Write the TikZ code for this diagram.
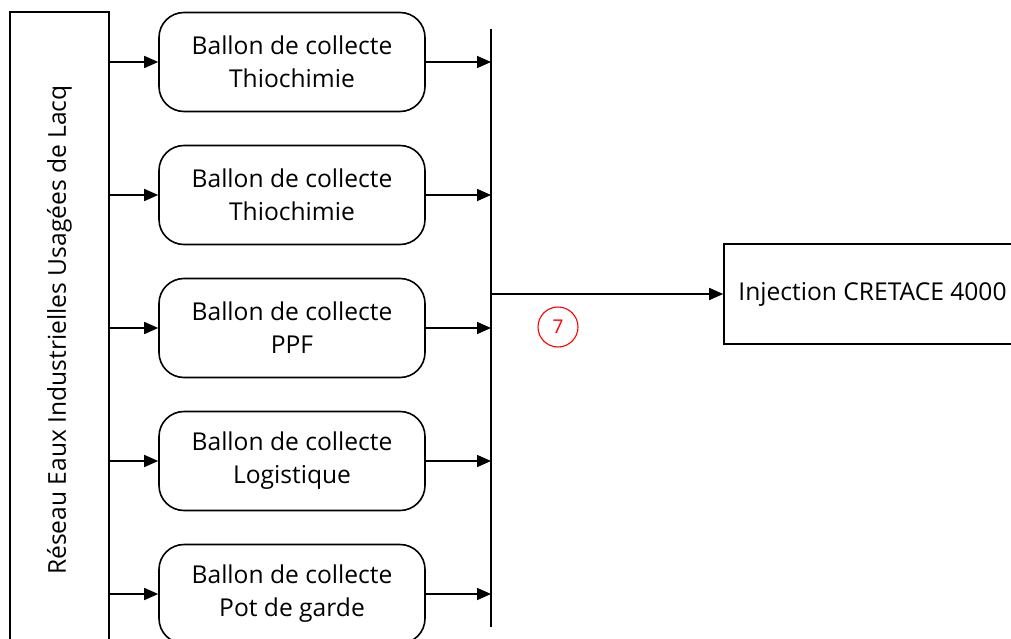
\documentclass[tikz,border=0pt]{standalone}
\usepackage{fontspec}
\setmainfont{Open Sans}
\usetikzlibrary{arrows.meta}
\begin{document}
\begin{tikzpicture}[x=1pt,y=-1pt,
  every node/.style={font=\fontsize{24.6}{33}\selectfont, align=center, inner sep=0pt},
  line/.style={line width=1.6pt, draw=black},
  arr/.style={line, -{Triangle[length=14pt,width=12pt]}},
  ballon/.style={line, rounded corners=25pt, minimum width=266pt, minimum height=99pt},
  plainbox/.style={line, minimum width=297pt, minimum height=100pt}]
\useasboundingbox (0,0) rectangle (1011,639);
% network source bar
\node[line, minimum width=99pt, minimum height=636pt] (res) at (59.5,330)
  {\rotatebox{90}{Réseau Eaux Industrielles Usagées de Lacq}};
% collection tanks
\node[ballon] (b1) at (292,62)  {Ballon de collecte\\Thiochimie};
\node[ballon] (b2) at (292,195) {Ballon de collecte\\Thiochimie};
\node[ballon] (b3) at (292,328) {Ballon de collecte\\PPF};
\node[ballon] (b4) at (292,461) {Ballon de collecte\\Logistique};
\node[ballon] (b5) at (292,594) {Ballon de collecte\\Pot de garde};
% collector bus
\coordinate (busT) at (491,29);
\coordinate (busB) at (491,627);
\draw[line] (busT) -- (busB);
% injection
\node[plainbox] (inj) at (872.5,294) {Injection CRETACE 4000};
% connectors
\foreach \b in {b1,b2,b3,b4,b5}{
  \draw[arr] (\b.west -| res.east) -- (\b.west);
  \draw[arr] (\b.east) -- (\b.east -| busT);
}
\draw[arr] (inj.west -| busT) -- (inj.west);
% flow marker
\node[draw=red, line width=1.1pt, circle, minimum size=40pt, text=red,
  font=\fontsize{19}{22}\selectfont] (m7) at (558,327) {7};
\end{tikzpicture}
\end{document}
